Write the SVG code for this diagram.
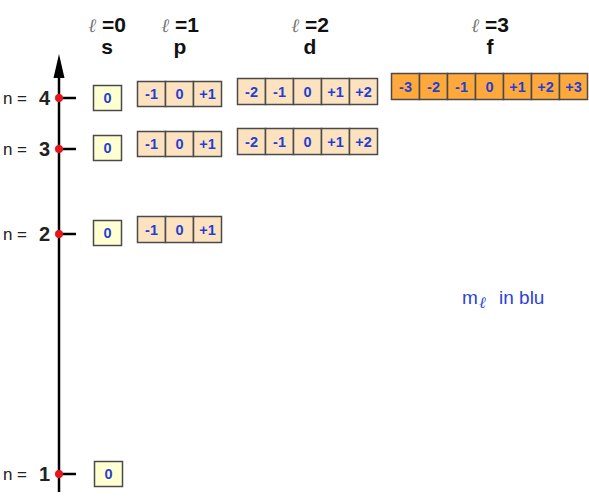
<svg xmlns="http://www.w3.org/2000/svg" width="589" height="500" viewBox="0 0 589 500">
<style>
text{font-family:"Liberation Sans",Arial,sans-serif}
.cs{fill:#ffffd2;stroke:#4a4a4a;stroke-width:1.5}
.cp{fill:#fde2c0;stroke:#4a4a4a;stroke-width:1.5}
.cf{fill:#ffa93c;stroke:#4a4a4a;stroke-width:1.5}
.v{font-size:14.5px;font-weight:bold;fill:#1f3fd6;text-anchor:middle}
.h{font-size:21px;font-weight:bold;fill:#111;text-anchor:middle}
.l{font-family:"DejaVu Serif",serif;font-style:italic;font-weight:normal;fill:#777;font-size:19px}
.n{font-size:17px;fill:#222;text-anchor:end}
.nd{font-size:20px;font-weight:bold;fill:#222;text-anchor:end}
.dot{fill:#e8141c}
</style>
<g id="axis">
<line x1="59" y1="72" x2="59" y2="492" stroke="#000" stroke-width="2.5"/>
<polygon points="59,54 53.5,78 64.5,78" fill="#000"/>
<g stroke="#000" stroke-width="2.5">
<line x1="59" y1="98" x2="76" y2="98"/>
<line x1="59" y1="149" x2="76" y2="149"/>
<line x1="59" y1="234" x2="76" y2="234"/>
<line x1="59" y1="474" x2="76" y2="474"/>
</g>
<circle class="dot" cx="59" cy="98" r="4"/>
<circle class="dot" cx="59" cy="149" r="4"/>
<circle class="dot" cx="59" cy="234" r="4"/>
<circle class="dot" cx="59" cy="474" r="4"/>
<text class="n" x="27" y="104">n =</text><text class="nd" x="50" y="105">4</text>
<text class="n" x="27" y="155">n =</text><text class="nd" x="50" y="156">3</text>
<text class="n" x="27" y="240">n =</text><text class="nd" x="50" y="241">2</text>
<text class="n" x="27" y="480">n =</text><text class="nd" x="50" y="481">1</text>
</g>
<g id="headers">
<text class="h" x="107" y="32"><tspan class="l">ℓ</tspan> =0</text>
<text class="h" x="107" y="54">s</text>
<text class="h" x="180" y="32"><tspan class="l">ℓ</tspan> =1</text>
<text class="h" x="180" y="54">p</text>
<text class="h" x="310" y="32"><tspan class="l">ℓ</tspan> =2</text>
<text class="h" x="310" y="54">d</text>
<text class="h" x="490" y="32"><tspan class="l">ℓ</tspan> =3</text>
<text class="h" x="490" y="54">f</text>
</g>
<g id="s-orbitals">
<rect class="cs" x="93.5" y="85.5" width="28" height="25"/><text class="v" x="107.5" y="103">0</text>
<rect class="cs" x="93.5" y="135.5" width="28" height="25"/><text class="v" x="107.5" y="153">0</text>
<rect class="cs" x="93.5" y="220.5" width="28" height="25"/><text class="v" x="107.5" y="238">0</text>
<rect class="cs" x="94.5" y="461.5" width="28" height="25"/><text class="v" x="108.5" y="479">0</text>
</g>
<g id="p-n4">
<rect class="cp" x="137.5" y="81.5" width="28" height="25"/><text class="v" x="151.5" y="99">-1</text>
<rect class="cp" x="165.5" y="81.5" width="28" height="25"/><text class="v" x="179.5" y="99">0</text>
<rect class="cp" x="193.5" y="81.5" width="28" height="25"/><text class="v" x="207.5" y="99">+1</text>
</g>
<g id="p-n3">
<rect class="cp" x="137.5" y="131.5" width="28" height="25"/><text class="v" x="151.5" y="149">-1</text>
<rect class="cp" x="165.5" y="131.5" width="28" height="25"/><text class="v" x="179.5" y="149">0</text>
<rect class="cp" x="193.5" y="131.5" width="28" height="25"/><text class="v" x="207.5" y="149">+1</text>
</g>
<g id="p-n2">
<rect class="cp" x="137.5" y="216.5" width="28" height="26"/><text class="v" x="151.5" y="234.5">-1</text>
<rect class="cp" x="165.5" y="216.5" width="28" height="26"/><text class="v" x="179.5" y="234.5">0</text>
<rect class="cp" x="193.5" y="216.5" width="28" height="26"/><text class="v" x="207.5" y="234.5">+1</text>
</g>
<g id="d-n4">
<rect class="cp" x="237.5" y="78.5" width="28" height="26"/><text class="v" x="251.5" y="96.5">-2</text>
<rect class="cp" x="265.5" y="78.5" width="28" height="26"/><text class="v" x="279.5" y="96.5">-1</text>
<rect class="cp" x="293.5" y="78.5" width="28" height="26"/><text class="v" x="307.5" y="96.5">0</text>
<rect class="cp" x="321.5" y="78.5" width="28" height="26"/><text class="v" x="335.5" y="96.5">+1</text>
<rect class="cp" x="349.5" y="78.5" width="28" height="26"/><text class="v" x="363.5" y="96.5">+2</text>
</g>
<g id="d-n3">
<rect class="cp" x="237.5" y="128.5" width="28" height="26"/><text class="v" x="251.5" y="146.5">-2</text>
<rect class="cp" x="265.5" y="128.5" width="28" height="26"/><text class="v" x="279.5" y="146.5">-1</text>
<rect class="cp" x="293.5" y="128.5" width="28" height="26"/><text class="v" x="307.5" y="146.5">0</text>
<rect class="cp" x="321.5" y="128.5" width="28" height="26"/><text class="v" x="335.5" y="146.5">+1</text>
<rect class="cp" x="349.5" y="128.5" width="28" height="26"/><text class="v" x="363.5" y="146.5">+2</text>
</g>
<g id="f-n4">
<rect class="cf" x="391.5" y="73.5" width="28" height="26"/><text class="v" x="405.5" y="91.5">-3</text>
<rect class="cf" x="419.5" y="73.5" width="28" height="26"/><text class="v" x="433.5" y="91.5">-2</text>
<rect class="cf" x="447.5" y="73.5" width="28" height="26"/><text class="v" x="461.5" y="91.5">-1</text>
<rect class="cf" x="475.5" y="73.5" width="28" height="26"/><text class="v" x="489.5" y="91.5">0</text>
<rect class="cf" x="503.5" y="73.5" width="28" height="26"/><text class="v" x="517.5" y="91.5">+1</text>
<rect class="cf" x="531.5" y="73.5" width="28" height="26"/><text class="v" x="545.5" y="91.5">+2</text>
<rect class="cf" x="559.5" y="73.5" width="28" height="26"/><text class="v" x="573.5" y="91.5">+3</text>
</g>
<g id="legend">
<text x="462" y="304" font-size="19" fill="#2a3fe0">m<tspan x="479" dy="4" font-family="DejaVu Serif,serif" font-style="italic" font-size="16">ℓ</tspan><tspan x="499" dy="-4">in blu</tspan></text>
</g>
</svg>
